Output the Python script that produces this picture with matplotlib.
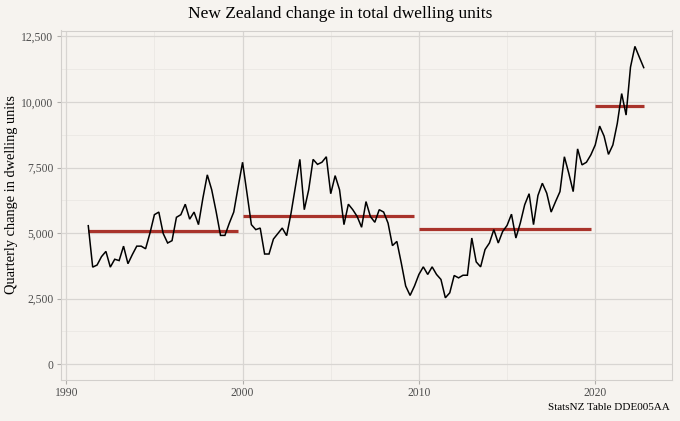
import numpy as np
import matplotlib
matplotlib.use("Agg")
import matplotlib.pyplot as plt

# Quarterly change in dwelling units, starting 1991 Q2 (plotted at quarter start)
start_year = 1991.25
vals_1990s = [5280, 3700, 3780, 4100, 4300, 3700, 4000, 3950, 4500, 3830,
              4180, 4500, 4500, 4400, 5000, 5700, 5800, 4980, 4620, 4710,
              5600, 5700, 6100, 5530, 5800, 5320, 6330, 7220, 6650, 5820,
              4910, 4910, 5380, 5800, 6760]
vals_2000s = [7700, 6520, 5320, 5130, 5190, 4200, 4200, 4770, 4980, 5190,
              4900, 5760, 6780, 7810, 5890, 6650, 7810, 7620, 7700, 7910,
              6500, 7190, 6650, 5320, 6100, 5890, 5630, 5220, 6200, 5630,
              5410, 5890, 5800, 5380, 4520, 4680, 3860, 2980, 2620, 2980]
vals_2010s = [3420, 3710, 3420, 3710, 3420, 3230, 2530, 2720, 3380, 3290,
              3390, 3390, 4810, 3900, 3710, 4370, 4620, 5130, 4620, 5060,
              5290, 5720, 4810, 5380, 6080, 6500, 5320, 6430, 6900, 6520,
              5800, 6200, 6580, 7910, 7280, 6580, 8210, 7600, 7700, 7980]
vals_2020s = [8360, 9080, 8700, 8000, 8360, 9180, 10320, 9500, 11330, 12120,
              11710, 11310]

x_ticks = [1990, 2000, 2010, 2020]
x_tick_labels = ["1990", "2000", "2010", "2020"]
y_ticks = [0, 2500, 5000, 7500, 10000, 12500]
y_tick_labels = ["0", "2,500", "5,000", "7,500", "10,000", "12,500"]

title = "New Zealand change in total dwelling units"
ylabel = "Quarterly change in dwelling units"
caption = "StatsNZ Table DDE005AA"

decades = [vals_1990s, vals_2000s, vals_2010s, vals_2020s]
values = np.concatenate([np.array(d, dtype=float) for d in decades])
x = start_year + 0.25 * np.arange(len(values))

bg = "#f6f3ef"
serif = ["Liberation Serif", "DejaVu Serif"]
plt.rcParams["font.family"] = serif

fig = plt.figure(figsize=(6.8, 4.21), dpi=100, facecolor=bg)
W, H = 680, 421
left, right, top, bottom = 60.5, 671.5, 30.5, 380
ax = fig.add_axes([left / W, 1 - bottom / H, (right - left) / W, (bottom - top) / H])
ax.set_facecolor(bg)

# minor / major grid
for xv in [1995, 2005, 2015]:
    ax.axvline(xv, color="#ebe8e4", lw=0.6, zorder=0)
for yv in [1250, 3750, 6250, 8750, 11250]:
    ax.axhline(yv, color="#ebe8e4", lw=0.6, zorder=0)
for xv in x_ticks:
    ax.axvline(xv, color="#d8d5d2", lw=0.9, zorder=0)
for yv in y_ticks:
    ax.axhline(yv, color="#d8d5d2", lw=0.9, zorder=0)

ax.plot(x, values, color="black", lw=1.1, zorder=3, solid_joinstyle="miter")

# decade means
i0 = 0
for d in decades:
    xs = x[i0:i0 + len(d)]
    ax.plot([xs[0], xs[-1]], [np.mean(d)] * 2, color="#a9332b", lw=2.3,
            zorder=2, solid_capstyle="butt")
    i0 += len(d)

xr = x[-1] - x[0]
ax.set_xlim(x[0] - 0.05 * xr, x[-1] + 0.05 * xr)
ymax = values.max()
ax.set_ylim(-0.05 * ymax, 1.05 * ymax)

ax.set_xticks(x_ticks)
ax.set_xticklabels(x_tick_labels)
ax.set_yticks(y_ticks)
ax.set_yticklabels(y_tick_labels)
ax.tick_params(axis="both", colors="#b0aeab", length=3, width=0.8,
               labelcolor="#4d4d4d", labelsize=8.4, pad=2)
for s in ax.spines.values():
    s.set_color("#d2cfcc")
    s.set_linewidth(0.8)

fig.text(12 / W, 1 - 195 / H, ylabel, rotation=90, ha="center", va="center",
         fontsize=10.4, color="black")
fig.text(0.5, 1 - 14 / H, title, ha="center", va="center", fontsize=12.5,
         color="black")
fig.text(670 / W, 1 - 408 / H, caption, ha="right", va="center", fontsize=8.0,
         color="black")

fig.savefig("out.png", dpi=100, facecolor=bg)
